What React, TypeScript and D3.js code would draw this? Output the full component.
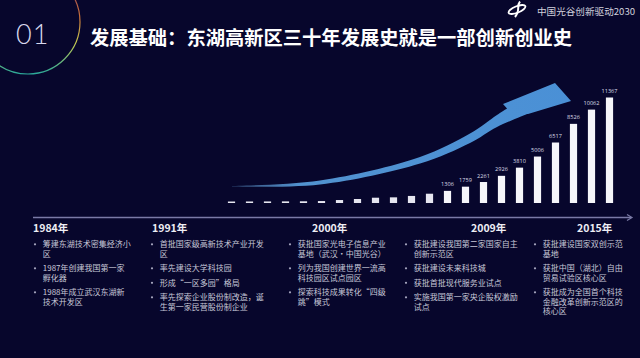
import React from "react";
import * as d3 from "d3";

// ---- data ----
const barIndex = d3.range(22);
const barValues = [160, 165, 170, 175, 185, 210, 320, 430, 570, 610, 760, 1000, 1306, 1759, 2261, 2926, 3810, 5006, 6517, 8526, 10062, 11367];
const barLabels = ["", "", "", "", "", "", "", "", "", "", "", "", "1306", "1759", "2261", "2926", "3810", "5006", "6517", "8526", "10062", "11367"];

const title = "发展基础：东湖高新区三十年发展史就是一部创新创业史";
const brand = "中国光谷创新驱动2030";

const years = ["1984年", "1991年", "2000年", "2009年", "2015年"];
const yearX = [33, 152, 312, 471, 577];
const bulletX = [35, 152, 290, 406, 535];
const col1 = [["筹建东湖技术密集经济小", "区"], ["1987年创建我国第一家", "孵化器"], ["1988年成立武汉东湖新", "技术开发区"]];
const col2 = [["首批国家级高新技术产业开发", "区"], ["率先建设大学科技园"], ["形成“一区多园”格局"], ["率先探索企业股份制改造，诞", "生第一家民营股份制企业"]];
const col3 = [["获批国家光电子信息产业", "基地（武汉·中国光谷）"], ["列为我国创建世界一流高", "科技园区试点园区"], ["探索科技成果转化“四级", "跳”模式"]];
const col4 = [["获批建设我国第二家国家自主", "创新示范区"], ["获批建设未来科技城"], ["获批首批现代服务业试点"], ["实施我国第一家央企股权激励", "试点"]];
const col5 = [["获批建设国家双创示范", "基地"], ["获批中国（湖北）自由", "贸易试验区核心区"], ["获批成为全国首个科技", "金融改革创新示范区的", "核心区"]];
const columns = [col1, col2, col3, col4, col5];

const CJK = "'Noto Sans CJK SC', 'Noto Sans', sans-serif";

export default function App() {
  const W = 640, H = 358;
  const x = d3.scaleBand<number>().domain(barIndex).range([222.5, 618.5]).paddingInner(0.6).paddingOuter(0.3);
  const y = d3.scaleLinear().domain([0, 11367]).range([203, 97.5]);

  // decorative growth arrow
  const upper: [number, number][] = [[232, 186], [320, 180.5], [420, 157], [470, 133.5], [497, 115], [507, 108.5]];
  const lower: [number, number][] = [[527, 114], [497, 127], [470, 143], [420, 163.5], [320, 184.5], [232, 186.6]];
  const ln = d3.line().curve(d3.curveCatmullRom.alpha(0.5));
  const up = ln(upper) as string;
  const lo = (ln(lower) as string).replace(/^M/, "L");
  const arrowPath = `${up}L503,104L555,83L571,101L528,114${lo}Z`;

  const lineH = 9.5;

  return (
    <svg width={W} height={H} style={{ position: "absolute", left: 0, top: 0, display: "block" }}>
      <defs>
        <linearGradient id="ring" gradientUnits="userSpaceOnUse" x1="28" y1="-30" x2="28" y2="74">
          <stop offset="0" stopColor="#7a2f6a" />
          <stop offset="0.45" stopColor="#c8703a" />
          <stop offset="0.7" stopColor="#c8cc50" />
          <stop offset="1" stopColor="#2aa89a" />
        </linearGradient>
        <linearGradient id="arrowGrad" gradientUnits="userSpaceOnUse" x1="232" y1="0" x2="571" y2="0">
          <stop offset="0" stopColor="#6fb0e8" stopOpacity="0.35" />
          <stop offset="0.2" stopColor="#5aa2e2" stopOpacity="0.9" />
          <stop offset="1" stopColor="#4a90d6" />
        </linearGradient>
      </defs>
      <rect width={W} height={H} fill="#07062c" />

      {/* header */}
      <circle cx={28} cy={22} r={52} fill="none" stroke="url(#ring)" strokeWidth={1.2} />
      <text x={16} y={43.5} fill="#d8d8ee" fontFamily="Lato, sans-serif" fontWeight={300} fontSize={27} letterSpacing={1}>01</text>
      <text x={90} y={45} fill="#ffffff" fontFamily={CJK} fontWeight={700} fontSize={19.3}>{title}</text>
      <g fill="none" stroke="#ffffff">
        <ellipse cx={517} cy={9.5} rx={9} ry={3.2} transform="rotate(-22 517 9.5)" strokeWidth={1.8} />
        <path d="M520,1.5 C516,6 521,10 515,17" strokeWidth={2} />
      </g>
      <text x={537} y={14.5} fill="#d0d0dc" fontFamily={CJK} fontSize={9.6}>{brand}</text>

      {/* arrow */}
      <path d={arrowPath} fill="url(#arrowGrad)" />

      {/* bars */}
      {barIndex.map((i) => (
        <rect key={i} x={x(i)} y={y(barValues[i])} width={x.bandwidth()} height={y(0) - y(barValues[i])} fill={i < 12 ? "#e6e6f0" : "#f6f6fa"} />
      ))}
      {barIndex.map((i) => (
        barLabels[i] ? (
          <text key={"l" + i} x={(x(i) as number) + x.bandwidth() / 2} y={y(barValues[i]) - 4.5} textAnchor="middle" fill="#dcdce6" fontFamily="'Open Sans', sans-serif" fontSize={5.6}>{barLabels[i]}</text>
        ) : null
      ))}

      {/* timeline */}
      <line x1={33} y1={217.5} x2={631} y2={217.5} stroke="#7a7aa6" strokeWidth={1.5} />
      <path d="M627,214.5 L632,217.5 L627,220.5" fill="none" stroke="#7a7aa6" strokeWidth={1.2} />

      {years.map((yr, c) => (
        <text key={yr} x={yearX[c]} y={232} fill="#eeeef4" fontFamily={CJK} fontWeight={700} fontSize={10.5}>{yr}</text>
      ))}

      {columns.map((items, c) => {
        let cy = 244.3;
        return (
          <g key={c}>
            {items.map((lines, k) => {
              const top = cy;
              cy += lines.length * lineH + 5;
              return (
                <g key={k}>
                  <circle cx={bulletX[c]} cy={top} r={1.1} fill="#a8a8c0" />
                  {lines.map((t, j) => (
                    <text key={j} x={bulletX[c] + 7.8} y={top + j * lineH + 3} fill="#c8c8d8" fontFamily={CJK} fontSize={8}>{t}</text>
                  ))}
                </g>
              );
            })}
          </g>
        );
      })}
    </svg>
  );
}
